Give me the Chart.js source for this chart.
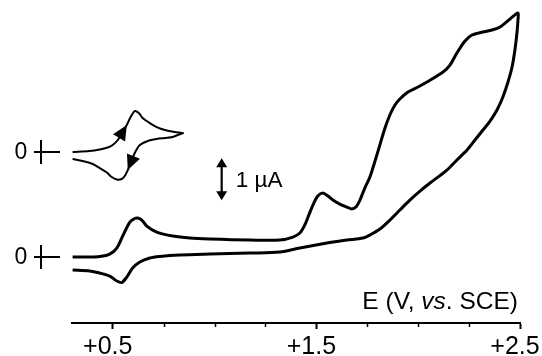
<!DOCTYPE html>
<html>
<head>
<meta charset="utf-8">
<script src="https://cdn.jsdelivr.net/npm/chart.js@4"></script>
<style>
  html, body { margin: 0; padding: 0; background: #fff; }
  #wrap { width: 542px; height: 356px; }
</style>
</head>
<body>
<div id="wrap"><canvas id="cv" width="542" height="356"></canvas></div>
<script>
// Cyclic voltammogram: potential in V vs. SCE, current in µA.
// Main scan: anodic sweep 0.3 -> 2.5 V, then return to 0.3 V.
const potential = [
  0.303, 0.387, 0.436, 0.485, 0.520, 0.549, 0.584, 0.608, 0.623, 0.643,
  0.667, 0.716, 0.795, 0.878, 0.977, 1.173, 1.321, 1.385, 1.419, 1.443,
  1.463, 1.483, 1.507, 1.532, 1.557, 1.581, 1.615, 1.650, 1.674, 1.694,
  1.714, 1.738, 1.763, 1.797, 1.837, 1.861, 1.886, 1.910, 1.950, 1.999,
  2.043, 2.122, 2.156, 2.190, 2.230, 2.264, 2.318, 2.362, 2.402, 2.451,
  2.490,
  2.490, 2.485, 2.475, 2.461, 2.441, 2.416, 2.387, 2.353, 2.318, 2.279,
  2.240, 2.190, 2.141, 2.058, 2.009, 1.959, 1.910, 1.861, 1.812, 1.763,
  1.729, 1.650, 1.566, 1.419, 1.321, 1.173, 0.977, 0.829, 0.731, 0.682,
  0.633, 0.598, 0.569, 0.544, 0.520, 0.485, 0.436, 0.387, 0.303
];
const current = [
  0.000, 0.000, 0.012, 0.071, 0.214, 0.500, 0.833, 0.917, 0.929, 0.881,
  0.738, 0.595, 0.500, 0.452, 0.429, 0.405, 0.405, 0.476, 0.571, 0.762,
  1.000, 1.238, 1.452, 1.524, 1.452, 1.357, 1.262, 1.190, 1.143, 1.190,
  1.357, 1.643, 1.905, 2.429, 3.071, 3.381, 3.619, 3.762, 3.929, 4.048,
  4.167, 4.405, 4.571, 4.857, 5.143, 5.286, 5.357, 5.405, 5.476, 5.667,
  5.810,
  5.643, 5.333, 4.929, 4.524, 4.167, 3.810, 3.500, 3.238, 3.024, 2.786,
  2.548, 2.310, 2.071, 1.762, 1.571, 1.357, 1.119, 0.881, 0.667, 0.524,
  0.452, 0.405, 0.345, 0.214, 0.119, 0.095, 0.071, 0.048, 0.012, -0.024,
  -0.119, -0.262, -0.476, -0.607, -0.571, -0.452, -0.381, -0.333, -0.310
];

// Small reference couple, scanned 0.3 -> 0.85 V and back, shifted up by insetOffset.
const insetPotential = [
  0.303, 0.387, 0.436, 0.475, 0.500, 0.525, 0.549, 0.569, 0.588, 0.608,
  0.628, 0.647, 0.682, 0.716, 0.756, 0.805, 0.845,
  0.819, 0.795, 0.756, 0.716, 0.672, 0.633, 0.613, 0.598, 0.584, 0.574,
  0.559, 0.544, 0.520, 0.495, 0.471, 0.436, 0.402, 0.362, 0.303
];
const insetCurrent = [
  0.000, 0.024, 0.060, 0.107, 0.167, 0.286, 0.476, 0.643, 0.833, 0.976,
  0.929, 0.810, 0.690, 0.595, 0.524, 0.476, 0.452,
  0.405, 0.357, 0.333, 0.310, 0.262, 0.167, 0.024, -0.143, -0.310, -0.429,
  -0.571, -0.643, -0.655, -0.595, -0.488, -0.381, -0.286, -0.226, -0.167
];
const insetOffset = 2.5;
// Scan-direction arrowheads on the small trace: [tip index, tail index]
const insetArrows = [[7, 5], [26, 24]];

const majorTicks = [0.5, 1.5, 2.5];
const tickLabels = ['+0.5', '+1.5', '+2.5'];
const minorTicks = [0.75, 1.0, 1.25, 1.75, 2.0, 2.25];
const axisTitle = [['E (V, ', false], ['vs', true], ['. SCE)', false]];
const scaleBar = { potential: 1.035, from: 1.35, to: 2.35, label: '1 \u00b5A' };
const zeroLevels = [0, insetOffset];

const FONT = '"Liberation Sans", Arial, Helvetica, sans-serif';

function xy(xs, ys, shift) {
  return xs.map((x, i) => ({ x: x, y: ys[i] + shift }));
}

function arrowHead(ctx, tx, ty, fx, fy, len, half) {
  const a = Math.atan2(ty - fy, tx - fx);
  const bx = tx - len * Math.cos(a), by = ty - len * Math.sin(a);
  const nx = -Math.sin(a) * half, ny = Math.cos(a) * half;
  ctx.beginPath();
  ctx.moveTo(tx, ty);
  ctx.lineTo(bx + nx, by + ny);
  ctx.lineTo(bx - nx, by - ny);
  ctx.closePath();
  ctx.fill();
}

const decorations = {
  id: 'decorations',
  afterDraw(chart) {
    const ctx = chart.ctx;
    const xs = chart.scales.x, ys = chart.scales.y;
    const area = chart.chartArea;
    ctx.save();
    ctx.strokeStyle = '#000';
    ctx.fillStyle = '#000';

    // minor tick marks
    ctx.lineWidth = 1.5;
    minorTicks.forEach(v => {
      const px = Math.round(xs.getPixelForValue(v)) + 0.5;
      ctx.beginPath();
      ctx.moveTo(px, area.bottom);
      ctx.lineTo(px, area.bottom + 4);
      ctx.stroke();
    });

    // zero markers for both traces
    ctx.font = '23px ' + FONT;
    ctx.textAlign = 'center';
    ctx.textBaseline = 'middle';
    zeroLevels.forEach(v => {
      const py = ys.getPixelForValue(v);
      ctx.fillText('0', 21, py + 1);
      ctx.lineWidth = 2;
      ctx.beginPath();
      ctx.moveTo(34, py); ctx.lineTo(60, py);
      ctx.moveTo(41, py - 12); ctx.lineTo(41, py + 12);
      ctx.stroke();
    });

    // current scale bar
    const bx = xs.getPixelForValue(scaleBar.potential);
    const y1 = ys.getPixelForValue(scaleBar.to), y0 = ys.getPixelForValue(scaleBar.from);
    ctx.lineWidth = 2.2;
    ctx.beginPath();
    ctx.moveTo(bx, y1 + 6); ctx.lineTo(bx, y0 - 6);
    ctx.stroke();
    arrowHead(ctx, bx, y1, bx, y1 + 10, 9, 5.5);
    arrowHead(ctx, bx, y0, bx, y0 - 10, 9, 5.5);
    ctx.textAlign = 'left';
    ctx.font = '22.5px ' + FONT;
    ctx.fillText(scaleBar.label, bx + 14, (y0 + y1) / 2 + 1);

    // axis title, right aligned above the axis
    ctx.textBaseline = 'alphabetic';
    let total = 0;
    axisTitle.forEach(([t, it]) => {
      ctx.font = (it ? 'italic ' : '') + '24.5px ' + FONT;
      total += ctx.measureText(t).width;
    });
    let cx = area.right - 2 - total;
    axisTitle.forEach(([t, it]) => {
      ctx.font = (it ? 'italic ' : '') + '24.5px ' + FONT;
      ctx.fillText(t, cx, area.bottom - 14);
      cx += ctx.measureText(t).width;
    });

    // scan-direction arrows on the small trace
    insetArrows.forEach(([tip, tail]) => {
      const tx = xs.getPixelForValue(insetPotential[tip]);
      const ty = ys.getPixelForValue(insetCurrent[tip] + insetOffset);
      const fx = xs.getPixelForValue(insetPotential[tail]);
      const fy = ys.getPixelForValue(insetCurrent[tail] + insetOffset);
      arrowHead(ctx, tx, ty, fx, fy, 15, 7);
    });
    ctx.restore();
  }
};

new Chart(document.getElementById('cv'), {
  type: 'line',
  data: {
    datasets: [
      {
        data: xy(potential, current, 0),
        borderColor: '#000', borderWidth: 3,
        pointRadius: 0, tension: 0.3, fill: false, clip: false
      },
      {
        data: xy(insetPotential, insetCurrent, insetOffset),
        borderColor: '#000', borderWidth: 2,
        pointRadius: 0, tension: 0.3, fill: false, clip: false
      }
    ]
  },
  options: {
    responsive: false,
    animation: false,
    devicePixelRatio: 1,
    layout: { padding: { left: 72, right: 22, top: 5, bottom: 0 } },
    plugins: { legend: { display: false }, tooltip: { enabled: false } },
    events: [],
    scales: {
      x: {
        type: 'linear', min: 0.3, max: 2.5,
        afterBuildTicks: s => { s.ticks = majorTicks.map(v => ({ value: v })); },
        afterFit: s => { s.paddingLeft = 0; s.paddingRight = 0; s.height = 33; },
        ticks: {
          callback: (v, i) => tickLabels[i],
          font: { family: FONT, size: 25 },
          color: '#000', padding: 3, maxRotation: 0, autoSkip: false,
          labelOffset: -5
        },
        grid: { drawOnChartArea: false, tickLength: 6, tickWidth: 2, tickColor: '#000' },
        border: { color: '#000', width: 2 }
      },
      y: { type: 'linear', min: -1.57, max: 6.0, display: false }
    }
  },
  plugins: [decorations]
});
</script>
</body>
</html>
